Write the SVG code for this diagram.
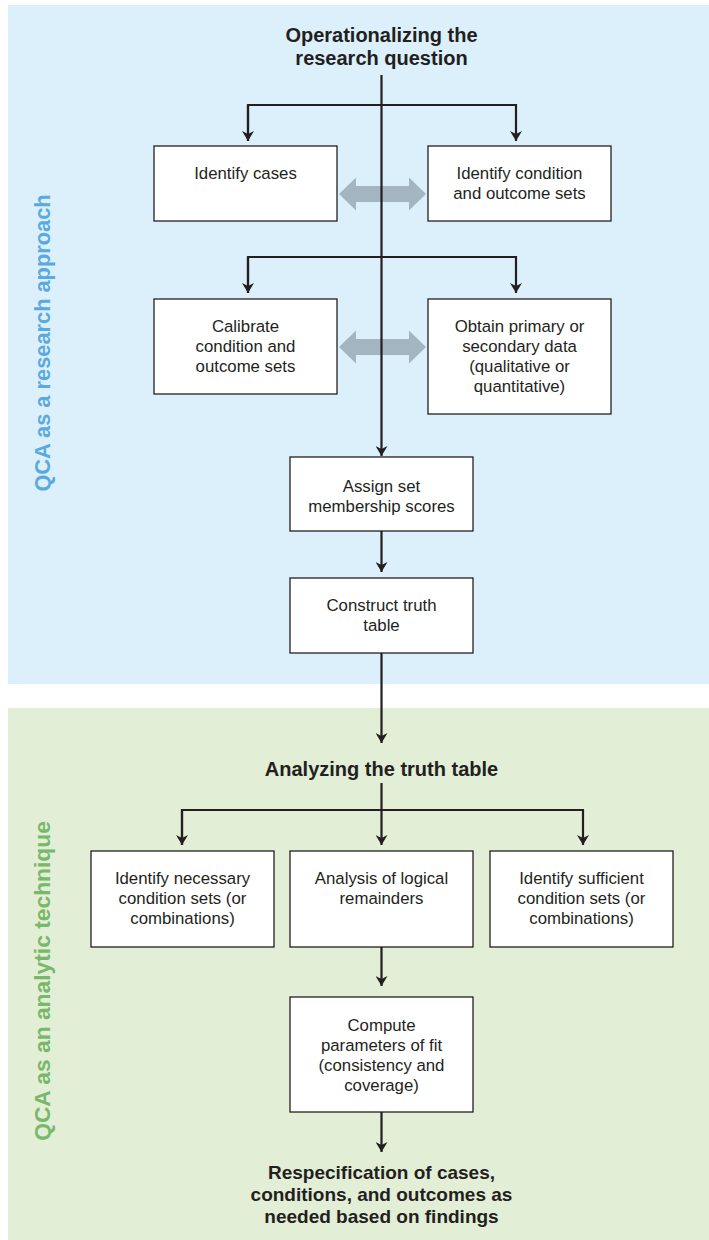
<svg xmlns="http://www.w3.org/2000/svg" width="709" height="1240" viewBox="0 0 709 1240">
<style>
.box{fill:#fff;stroke:#231f20;stroke-width:1.3}
.t{font-family:"Liberation Sans",Arial,sans-serif;font-size:16.8px;fill:#231f20;text-anchor:middle}
.h{font-family:"Liberation Sans",Arial,sans-serif;font-size:20px;font-weight:bold;fill:#231f20;text-anchor:middle}
.h2{font-family:"Liberation Sans",Arial,sans-serif;font-size:19px;font-weight:bold;fill:#231f20;text-anchor:middle}
.side{font-family:"Liberation Sans",Arial,sans-serif;font-weight:bold;text-anchor:middle}
.ln{fill:none;stroke:#231f20;stroke-width:2.2}
.dbl{fill:#a3b5c0}
</style>
<defs>
<marker id="ah" viewBox="0 0 10 12" refX="10" refY="6" markerWidth="10" markerHeight="12" markerUnits="userSpaceOnUse" orient="auto">
<path d="M0,0 L10,6 L0,12 L3,6 Z" fill="#231f20"/>
</marker>
</defs>
<rect x="8" y="5" width="701" height="679" fill="#dcf0fb"/>
<rect x="8" y="708" width="701" height="532" fill="#e2eed5"/>
<text class="side" font-size="21.8" fill="#5aaae0" transform="translate(50,343) rotate(-90)">QCA as a research approach</text>
<text class="side" font-size="22.8" fill="#78b86a" transform="translate(50,981) rotate(-90)">QCA as an analytic technique</text>

<g id="double-arrows">
<path class="dbl" d="M339,194 L356,177.5 L356,186 L409,186 L409,177.5 L426,194 L409,210.5 L409,202 L356,202 L356,210.5 Z"/>
<path class="dbl" d="M339,347 L356,330.5 L356,339 L409,339 L409,330.5 L426,347 L409,363.5 L409,355 L356,355 L356,363.5 Z"/>
</g>

<g id="connectors">
<path class="ln" d="M381.5,75 L381.5,456" marker-end="url(#ah)"/>
<path class="ln" d="M248,141 L248,105 L516,105 L516,141" marker-end="url(#ah)"/>
<path class="ln" d="M248,105 L248,141" marker-end="url(#ah)"/>
<path class="ln" d="M248,293 L248,257 L516,257 L516,293" marker-end="url(#ah)"/>
<path class="ln" d="M248,257 L248,293" marker-end="url(#ah)"/>
<path class="ln" d="M381.5,531 L381.5,572" marker-end="url(#ah)"/>
<path class="ln" d="M381.5,653 L381.5,743" marker-end="url(#ah)"/>
<path class="ln" d="M381.5,783 L381.5,845" marker-end="url(#ah)"/>
<path class="ln" d="M182,845 L182,810 L583,810 L583,845" marker-end="url(#ah)"/>
<path class="ln" d="M182,810 L182,845" marker-end="url(#ah)"/>
<path class="ln" d="M381.5,947 L381.5,986" marker-end="url(#ah)"/>
<path class="ln" d="M381.5,1112 L381.5,1152" marker-end="url(#ah)"/>
</g>

<g id="title1">
<text class="h" x="381.5" y="42">Operationalizing the</text>
<text class="h" x="381.5" y="65">research question</text>
</g>
<g id="identify-cases">
<rect class="box" x="154" y="146" width="183" height="75"/>
<text class="t" x="245.5" y="179">Identify cases</text>
</g>
<g id="identify-sets">
<rect class="box" x="428" y="146" width="183" height="75"/>
<text class="t" x="519.5" y="179">Identify condition</text>
<text class="t" x="519.5" y="199">and outcome sets</text>
</g>
<g id="calibrate">
<rect class="box" x="154" y="299" width="183" height="95"/>
<text class="t" x="245.5" y="332">Calibrate</text>
<text class="t" x="245.5" y="352">condition and</text>
<text class="t" x="245.5" y="372">outcome sets</text>
</g>
<g id="obtain-data">
<rect class="box" x="428" y="299" width="183" height="115"/>
<text class="t" x="519.5" y="332">Obtain primary or</text>
<text class="t" x="519.5" y="352">secondary data</text>
<text class="t" x="519.5" y="372">(qualitative or</text>
<text class="t" x="519.5" y="392">quantitative)</text>
</g>
<g id="assign">
<rect class="box" x="290" y="457" width="183" height="74"/>
<text class="t" x="381.5" y="492">Assign set</text>
<text class="t" x="381.5" y="512">membership scores</text>
</g>
<g id="construct">
<rect class="box" x="290" y="578" width="183" height="75"/>
<text class="t" x="381.5" y="611">Construct truth</text>
<text class="t" x="381.5" y="631">table</text>
</g>
<g id="title2">
<text class="h" x="381.5" y="776">Analyzing the truth table</text>
</g>
<g id="necessary">
<rect class="box" x="91" y="851" width="183" height="96"/>
<text class="t" x="182.5" y="884">Identify necessary</text>
<text class="t" x="182.5" y="904">condition sets (or</text>
<text class="t" x="182.5" y="924">combinations)</text>
</g>
<g id="remainders">
<rect class="box" x="290" y="851" width="183" height="96"/>
<text class="t" x="381.5" y="884">Analysis of logical</text>
<text class="t" x="381.5" y="904">remainders</text>
</g>
<g id="sufficient">
<rect class="box" x="490" y="851" width="183" height="96"/>
<text class="t" x="581.5" y="884">Identify sufficient</text>
<text class="t" x="581.5" y="904">condition sets (or</text>
<text class="t" x="581.5" y="924">combinations)</text>
</g>
<g id="compute">
<rect class="box" x="290" y="997" width="183" height="115"/>
<text class="t" x="381.5" y="1031">Compute</text>
<text class="t" x="381.5" y="1051">parameters of fit</text>
<text class="t" x="381.5" y="1071">(consistency and</text>
<text class="t" x="381.5" y="1091">coverage)</text>
</g>
<g id="respecification">
<text class="h2" x="381.5" y="1179">Respecification of cases,</text>
<text class="h2" x="381.5" y="1201">conditions, and outcomes as</text>
<text class="h2" x="381.5" y="1223">needed based on findings</text>
</g>
</svg>
